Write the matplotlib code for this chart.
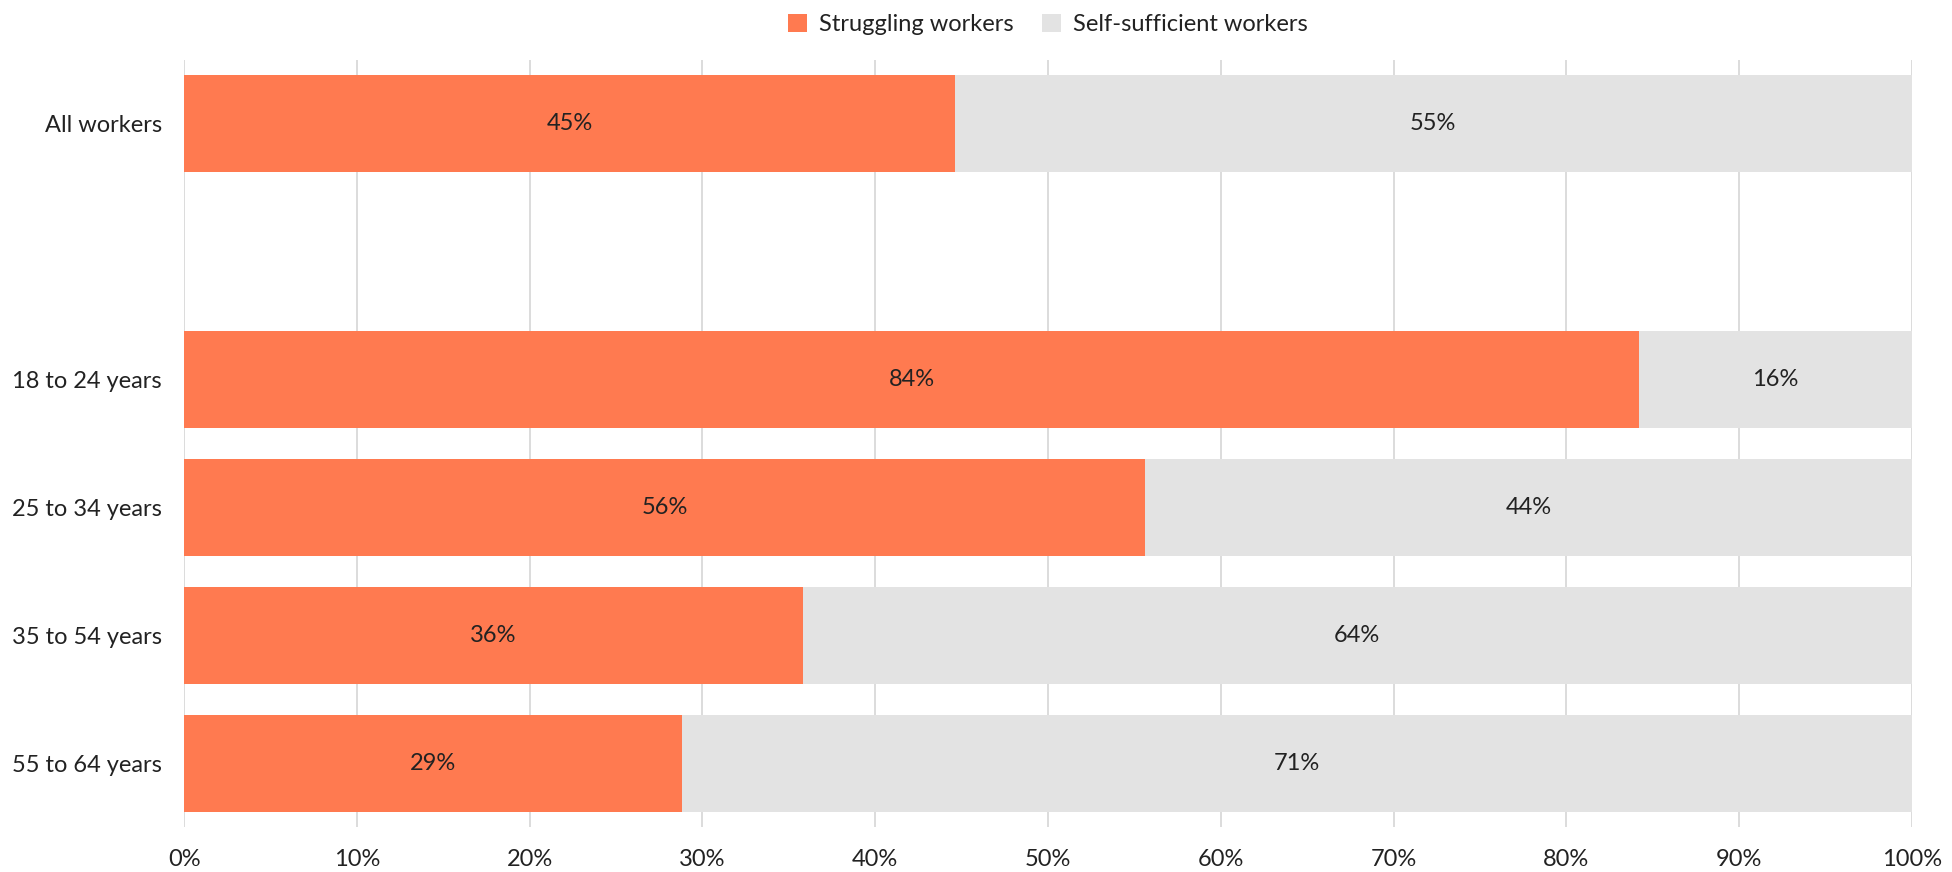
import matplotlib.pyplot as plt
import numpy as np

groups = ["All workers", "", "18 to 24 years", "25 to 34 years", "35 to 54 years", "55 to 64 years"]
struggling = [44.6, np.nan, 84.2, 55.6, 35.8, 28.8]
self_sufficient = [55.4, np.nan, 15.8, 44.4, 64.2, 71.2]

ORANGE = "#FF7A50"
GREY = "#E3E3E3"
TEXT = "#222222"

plt.rcParams['font.family'] = ['Lato', 'DejaVu Sans']

fig = plt.figure(figsize=(19.52, 8.72), dpi=100)
ax = fig.add_axes([0.0943, 0.0516, 0.8852, 0.8796])

y = np.arange(len(groups))
s = np.array(struggling)
r = np.array(self_sufficient)
ax.barh(y, s, height=0.76, color=ORANGE, label="Struggling workers", zorder=2)
ax.barh(y, r, left=s, height=0.76, color=GREY, label="Self-sufficient workers", zorder=2)

for yi, a, b in zip(y, s, r):
    if np.isnan(a):
        continue
    ax.text(a / 2, yi, f"{a:.0f}%", ha="center", va="center", fontsize=17, color=TEXT, zorder=3)
    ax.text(a + b / 2, yi, f"{b:.0f}%", ha="center", va="center", fontsize=17, color=TEXT, zorder=3)

ax.set_xlim(0, 100)
ax.set_ylim(len(groups) - 0.5, -0.5)
ax.set_yticks(y)
ax.set_yticklabels(groups, fontsize=17, color=TEXT)
ax.set_xticks(np.arange(0, 101, 10))
ax.set_xticklabels([f"{v}%" for v in range(0, 101, 10)], fontsize=17, color=TEXT)
ax.tick_params(axis="both", length=0)
ax.tick_params(axis="x", pad=16)
ax.tick_params(axis="y", pad=16)
ax.grid(axis="x", color="#D9D9D9", linewidth=1.3, zorder=0)
for sp in ax.spines.values():
    sp.set_visible(False)

ax.legend(loc="upper center", bbox_to_anchor=(0.5, 1.088), ncol=2, frameon=False,
          fontsize=17, handlelength=0.8, handleheight=0.8, columnspacing=1.2, handletextpad=0.5,
          labelcolor=TEXT)

fig.savefig("out.png", dpi=100)
